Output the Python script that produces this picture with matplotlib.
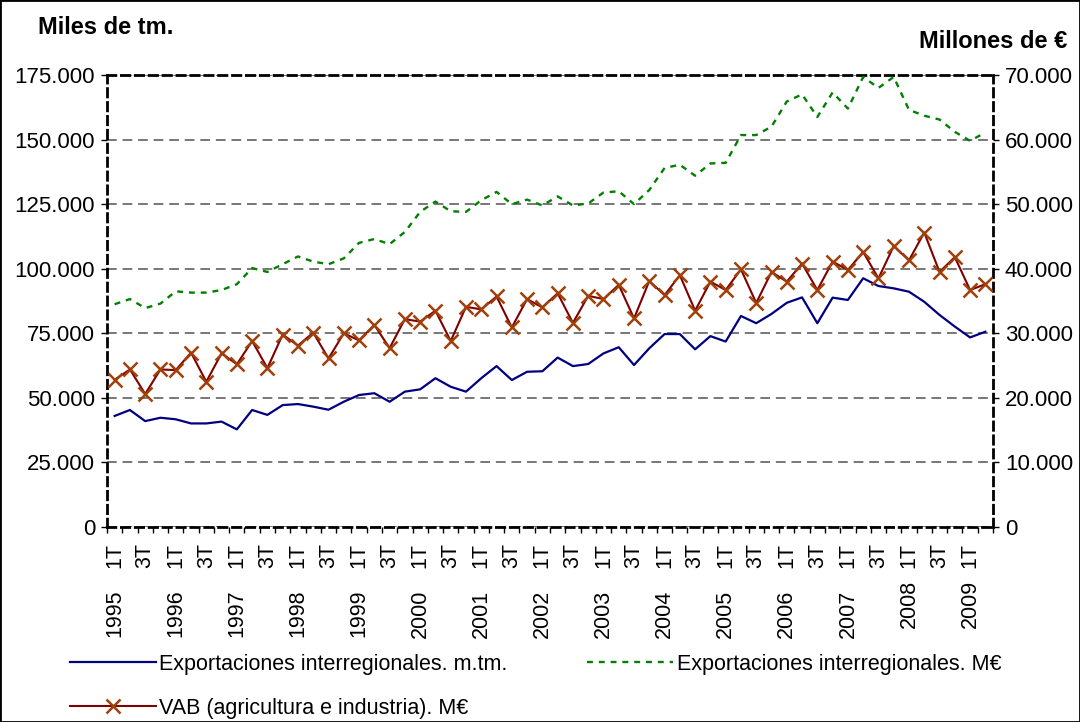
import numpy as np
import matplotlib
matplotlib.use("Agg")
import matplotlib.pyplot as plt
from matplotlib.ticker import FuncFormatter
from matplotlib.patches import Rectangle

plt.rcParams['font.family'] = ['Liberation Sans', 'DejaVu Sans']

# quarterly series, 1T 1995 .. 2T 2009
years = list(range(1995, 2010))
quarter_labels = []
for y in years:
    quarter_labels += ["1T", "", "3T", ""]
quarter_labels = quarter_labels[:58]

# miles de tm (left axis)
export_tm = [43.0, 45.3, 41.0, 42.3, 41.7, 40.1, 40.1, 40.8, 37.8, 45.3,
             43.4, 47.2, 47.6, 46.6, 45.4, 48.5, 51.1, 51.8, 48.5, 52.4,
             53.3, 57.6, 54.3, 52.4, 57.6, 62.3, 56.9, 60.1, 60.3, 65.6,
             62.3, 63.1, 67.2, 69.6, 62.7, 69.2, 74.7, 74.7, 68.8, 73.9,
             71.8, 81.7, 78.9, 82.5, 86.8, 88.9, 78.9, 88.8, 87.9, 96.3,
             93.3, 92.4, 91.1, 87.2, 82.1, 77.6, 73.4, 75.6]

# millones de euros (right axis)
export_eur = [34.5, 35.3, 33.9, 34.6, 36.5, 36.3, 36.3, 36.7, 37.6, 40.1,
              39.5, 40.7, 41.9, 41.1, 40.7, 41.6, 44.0, 44.6, 43.8, 45.7,
              48.8, 50.4, 48.9, 48.8, 50.6, 51.9, 50.0, 50.7, 49.8, 51.2,
              49.8, 50.1, 51.8, 52.0, 50.0, 52.2, 55.6, 56.1, 54.4, 56.3,
              56.4, 60.7, 60.7, 62.0, 65.9, 67.0, 63.5, 67.3, 64.8, 69.7,
              68.0, 69.7, 64.6, 63.7, 63.1, 61.2, 59.8, 61.1]

vab_eur = [22.8, 24.4, 20.6, 24.4, 24.3, 27.0, 22.5, 26.9, 25.2, 28.8,
           24.6, 29.8, 28.1, 30.1, 26.1, 30.0, 28.9, 31.3, 27.7, 32.2,
           31.8, 33.5, 28.8, 34.1, 33.7, 35.7, 30.9, 35.3, 34.0, 36.2,
           31.6, 35.8, 35.3, 37.5, 32.3, 38.1, 35.9, 39.0, 33.5, 38.0,
           36.7, 39.9, 34.7, 39.5, 38.0, 40.8, 36.7, 41.1, 39.8, 42.6,
           38.5, 43.5, 41.3, 45.6, 39.5, 41.8, 36.7, 37.6]

export_tm = np.array(export_tm) * 1000
export_eur = np.array(export_eur) * 1000
vab_eur = np.array(vab_eur) * 1000
x = np.arange(len(export_tm))


def miles(v, pos):
    if v == 0:
        return "0"
    return f"{int(round(v)):,}".replace(",", ".")


fig = plt.figure(figsize=(10.8, 7.22), dpi=100)
ax = fig.add_axes([107 / 1080, 1 - 527 / 722, 886 / 1080, 452 / 722])
ax2 = ax.twinx()

l_tm, = ax.plot(x, export_tm, color="#000080", lw=1.6,
                label="Exportaciones interregionales. m.tm.")
l_eur, = ax2.plot(x, export_eur, color="#008000", lw=1.7, linestyle=(0, (2.5, 2.5)),
                  label="Exportaciones interregionales. M€")
l_vab, = ax2.plot(x, vab_eur, color="#800000", lw=1.5, marker="x", markersize=10,
                  markeredgewidth=1.8, markeredgecolor="#A0400A",
                  label="VAB (agricultura e industria). M€")

ax.set_ylim(0, 175000)
ax2.set_ylim(0, 70000)
ax.set_yticks(np.arange(0, 175001, 25000))
ax2.set_yticks(np.arange(0, 70001, 10000))
ax.yaxis.set_major_formatter(FuncFormatter(miles))
ax2.yaxis.set_major_formatter(FuncFormatter(miles))
ax.grid(axis="y", color="#777777", linestyle=(0, (5, 3)), linewidth=1.4)

ax.set_xlim(-0.5, len(x) - 0.5)
ax.set_xticks(np.arange(-0.5, len(x), 1))
ax.set_xticklabels([])
ax.set_xticks(x, labels=quarter_labels, minor=True)
ax.tick_params(axis="x", which="major", length=4, width=1, direction="out")
ax.tick_params(axis="x", which="minor", length=0, pad=11.5, labelsize=15.5,
               labelrotation=90)
ax.tick_params(axis="y", length=4.5, width=1, pad=4, labelsize=16)
ax2.tick_params(axis="y", length=4.5, width=1, pad=4, labelsize=16)

for i, y in enumerate(years):
    ypos = -0.116 if y >= 2008 else -0.139
    ax.text(4 * i, ypos, str(y), transform=ax.get_xaxis_transform(),
            rotation=90, ha="center", va="top", fontsize=15.5)

for s in ax.spines.values():
    s.set_linestyle((0, (3, 2)))
    s.set_linewidth(2)
    s.set_color("black")
for s in ax2.spines.values():
    s.set_visible(False)

fig.text(38 / 1080, 1 - 28 / 722, "Miles de tm.", fontsize=17,
         fontweight="bold", ha="left", va="center")
fig.text(1067 / 1080, 1 - 42 / 722, "Millones de €", fontsize=17,
         fontweight="bold", ha="right", va="center")

fig.legend([l_tm, l_vab, l_eur],
           [l_tm.get_label(), l_vab.get_label(), l_eur.get_label()],
           loc="upper left", bbox_to_anchor=(70 / 1080, 1 - 654 / 722),
           ncol=2, frameon=False, fontsize=15.5, handlelength=4,
           handletextpad=0.15, columnspacing=3.7, borderpad=0,
           borderaxespad=0, labelspacing=1.05)

fig.patches.append(Rectangle((0, 0), 1, 1, transform=fig.transFigure,
                             fill=False, edgecolor="black", lw=2))

fig.savefig("out.png", dpi=100)
